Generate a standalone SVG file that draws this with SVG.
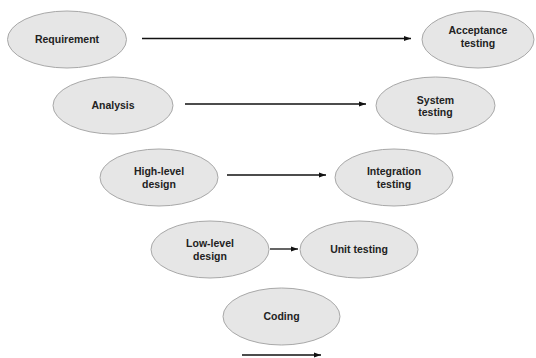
<svg xmlns="http://www.w3.org/2000/svg" width="536" height="358" viewBox="0 0 536 358">
<defs>
<marker id="ah" viewBox="0 0 10 10" refX="10" refY="5" markerWidth="9" markerHeight="7" markerUnits="userSpaceOnUse" orient="auto">
<path d="M0,1.5 L10,5 L0,8.5 Z" fill="#111"/>
</marker>
<style>
.n ellipse{fill:#e6e6e6;stroke:#a8a8a8;stroke-width:1}
.n text{font-family:"Liberation Sans",Arial,sans-serif;font-weight:bold;font-size:10.5px;fill:#222;text-anchor:middle}
.c line{stroke:#111;stroke-width:1.3;marker-end:url(#ah)}
</style>
</defs>
<rect width="536" height="358" fill="#fff"/>
<g class="c" id="connectors">
<line x1="142" y1="38.5" x2="411" y2="38.5"/>
<line x1="185" y1="104" x2="366" y2="104"/>
<line x1="227" y1="175" x2="326" y2="175"/>
<line x1="270" y1="249" x2="298" y2="249"/>
<line x1="242" y1="355" x2="321" y2="355"/>
</g>
<g class="n" id="requirement"><ellipse cx="67" cy="39.5" rx="59.5" ry="28.5"/><text x="67" y="43">Requirement</text></g>
<g class="n" id="acceptance"><ellipse cx="478" cy="39.5" rx="56" ry="28.5"/><text x="478" y="34">Acceptance</text><text x="478" y="46.5">testing</text></g>
<g class="n" id="analysis"><ellipse cx="113" cy="105.5" rx="60" ry="28.5"/><text x="113" y="109">Analysis</text></g>
<g class="n" id="system"><ellipse cx="435.5" cy="105.5" rx="59.5" ry="28.5"/><text x="435.5" y="104">System</text><text x="435.5" y="116">testing</text></g>
<g class="n" id="highlevel"><ellipse cx="159" cy="177.5" rx="59" ry="28.5"/><text x="159" y="175">High-level</text><text x="159" y="187.5">design</text></g>
<g class="n" id="integration"><ellipse cx="394" cy="177.5" rx="59" ry="28.5"/><text x="394" y="175">Integration</text><text x="394" y="187.5">testing</text></g>
<g class="n" id="lowlevel"><ellipse cx="210" cy="249.5" rx="59" ry="28.5"/><text x="210" y="247">Low-level</text><text x="210" y="259.5">design</text></g>
<g class="n" id="unit"><ellipse cx="359" cy="249.5" rx="59" ry="28.5"/><text x="359" y="253">Unit testing</text></g>
<g class="n" id="coding"><ellipse cx="281.5" cy="316.5" rx="58.5" ry="28.5"/><text x="281.5" y="320">Coding</text></g>
</svg>
